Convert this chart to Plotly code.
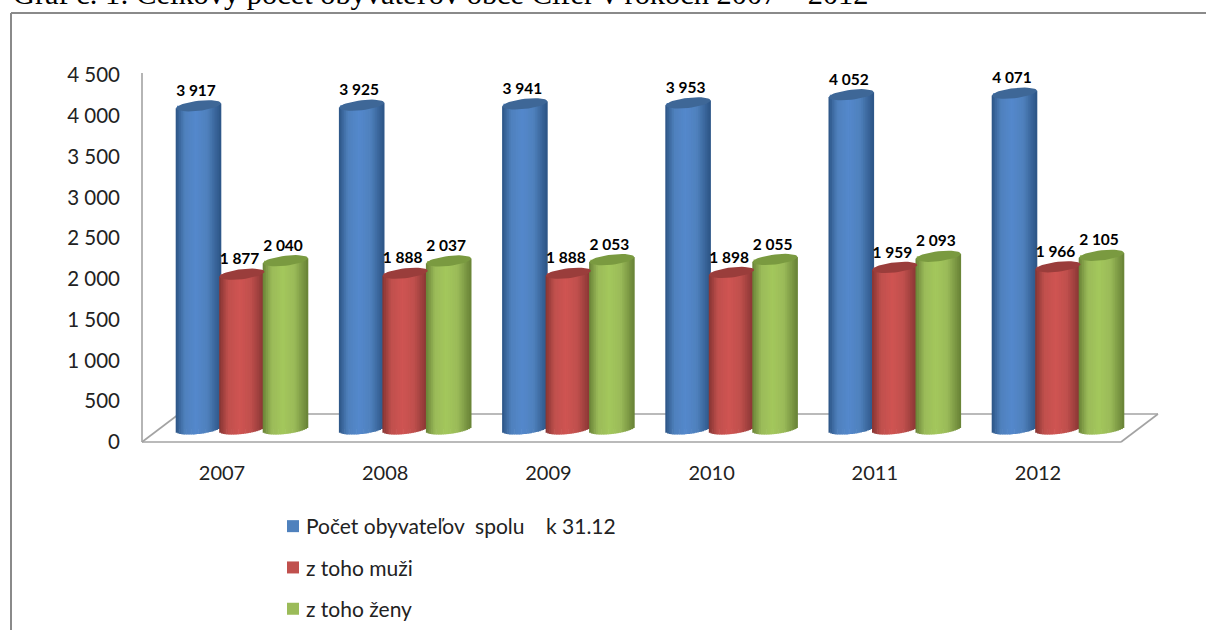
import math
import plotly.graph_objects as go

years = ["2007", "2008", "2009", "2010", "2011", "2012"]
total = [3917, 3925, 3941, 3953, 4052, 4071]
men = [1877, 1888, 1888, 1898, 1959, 1966]
women = [2040, 2037, 2053, 2055, 2093, 2105]
series_names = ["Počet obyvateľov  spolu    k 31.12", "z toho muži", "z toho ženy"]
title_text = "Graf č. 1: Celkový počet obyvateľov obce Cífer v rokoch 2007 – 2012"

W, H = 1206, 630
STEP = 163.2          # px between categories
PXU = 0.0825          # px per inhabitant in the bar (3D shifted) plane
BASE_Y = 429          # px of zero in the bar plane
BAR_W, BAR_OFF = 45, 43.5
CAP_B, CAP_TILT = 5, 2.5
N = 26

# edge, mid, light, cap, flat
palette = [
    ((44, 84, 133), (79, 129, 189), (84, 136, 204), (62, 103, 151), "#4F81BD"),
    ((133, 52, 50), (192, 80, 77), (207, 84, 82), (154, 61, 59), "#C0504D"),
    ((104, 130, 54), (155, 187, 89), (163, 199, 92), (122, 154, 64), "#9BBB59"),
]
FONT = "Lato"


def px(x):
    return x / W


def py(y):
    return 1 - y / H


def mix(a, b, t):
    return tuple(round(a[i] + (b[i] - a[i]) * t) for i in range(3))


def shade(u, pal):
    t = (u + 1) / 2
    edge, mid, light = pal[0], pal[1], pal[2]
    if t < 0.2:
        c = mix(edge, mid, t / 0.2)
    elif t < 0.45:
        c = mix(mid, light, (t - 0.2) / 0.25)
    elif t < 0.7:
        c = mix(light, mid, (t - 0.45) / 0.25)
    else:
        c = mix(mid, edge, (t - 0.7) / 0.3)
    return "rgb(%d,%d,%d)" % c


fig = go.Figure()
pos = list(range(len(years)))
all_series = [total, men, women]

# invisible trace that keeps the visible front axes alive
fig.add_trace(go.Scatter(x=pos, y=total, mode="markers", marker=dict(opacity=0),
                         showlegend=False, hoverinfo="skip"))

for s, values in enumerate(all_series):
    off = (s - 1) * BAR_OFF / STEP
    pal = palette[s]
    # flat base bar: carries the legend entry
    fig.add_trace(go.Bar(
        x=[p + off for p in pos], y=values, width=(BAR_W - 2) / STEP, name=series_names[s],
        marker=dict(color=pal[4], line=dict(width=0)), xaxis="x2", yaxis="y2",
        legendgroup=str(s), showlegend=True, hoverinfo="skip",
    ))
    # cylinder shading strips
    xs, ys, bases, cols = [], [], [], []
    for p, v in zip(pos, values):
        for k in range(N):
            u = -1 + (2 * k + 1) / N
            low = -(CAP_B * math.sqrt(1 - u * u)) / PXU + CAP_TILT * u / PXU
            high = v + CAP_TILT * u / PXU
            xs.append(p + off + u * BAR_W / 2 / STEP)
            bases.append(low)
            ys.append(high - low)
            cols.append(shade(u, pal))
    fig.add_trace(go.Bar(
        x=xs, y=ys, base=bases, width=(BAR_W / N + 0.6) / STEP,
        marker=dict(color=cols, line=dict(width=0)), xaxis="x2", yaxis="y2",
        showlegend=False, hoverinfo="skip",
    ))

for s, values in enumerate(all_series):
    off = (s - 1) * BAR_OFF / STEP
    pal = palette[s]
    # top caps
    cx, cy = [], []
    for p, v in zip(pos, values):
        for j in range(41):
            t = 2 * math.pi * j / 40
            cx.append(p + off + math.cos(t) * BAR_W / 2 / STEP)
            cy.append(v + (CAP_TILT * math.cos(t) + CAP_B * math.sin(t)) / PXU)
        cx.append(None)
        cy.append(None)
    fig.add_trace(go.Scatter(
        x=cx, y=cy, mode="lines", fill="toself", fillcolor="rgb(%d,%d,%d)" % pal[3],
        line=dict(width=0, color="rgb(%d,%d,%d)" % pal[3]), xaxis="x2", yaxis="y2",
        showlegend=False, hoverinfo="skip",
    ))

for s, values in enumerate(all_series):
    off = (s - 1) * BAR_OFF / STEP
    fig.add_trace(go.Scatter(
        x=[p + off - 2.5 / STEP for p in pos], y=[v + 6 / PXU for v in values],
        mode="text", text=[f"{v:,}".replace(",", " ") for v in values],
        textposition="top center",
        textfont=dict(family=FONT, size=15.5, color="#000000", weight="bold"),
        xaxis="x2", yaxis="y2", showlegend=False, hoverinfo="skip",
    ))

GRAY = "#A3A3A3"
floor = [
    (142, 442, 1121, 442), (142, 442, 179, 414), (179, 414, 1158, 414), (1158, 414, 1121, 442),
]
shapes = [dict(type="line", xref="paper", yref="paper", x0=px(a), y0=py(b), x1=px(c), y1=py(d),
               line=dict(color=GRAY, width=1.6), layer="below") for a, b, c, d in floor]
shapes += [
    dict(type="line", xref="paper", yref="paper", x0=px(11), y0=py(13), x1=1, y1=py(13),
         line=dict(color="#8A8A8A", width=2), layer="below"),
    dict(type="line", xref="paper", yref="paper", x0=px(11), y0=py(13), x1=px(11), y1=0,
         line=dict(color="#8A8A8A", width=2), layer="below"),
    dict(type="line", xref="paper", yref="paper", x0=px(142), y0=py(442), x1=px(142), y1=py(73),
         line=dict(color=GRAY, width=1.6), layer="below"),
]

fig.update_layout(
    width=W, height=H, margin=dict(l=0, r=0, t=0, b=0, autoexpand=False),
    paper_bgcolor="white", plot_bgcolor="rgba(0,0,0,0)",
    barmode="overlay", separators=", ",
    font=dict(family=FONT, color="#222222"),
    shapes=shapes,
    xaxis=dict(domain=[0, 1], range=[-222 / STEP, (W - 222) / STEP], tickmode="array",
               tickvals=pos, ticktext=years, showgrid=False, zeroline=False, showline=False,
               anchor="y", tickfont=dict(size=20, family=FONT, color="#222222"),
               ticks="", ticklabelstandoff=17),
    yaxis=dict(domain=[py(442), py(75)], range=[0, 4500], tickmode="array",
               tickvals=list(range(0, 5000, 500)), tickformat=",d", showgrid=False,
               zeroline=False, showline=False, ticks="", anchor="free", position=px(142),
               tickfont=dict(size=20.5, family=FONT, color="#222222"), ticklabelstandoff=22),
    xaxis2=dict(domain=[0, 1], range=[-242 / STEP, (W - 242) / STEP],
                visible=False, anchor="y2"),
    yaxis2=dict(domain=[0, 1], range=[-(H - BASE_Y) / PXU, BASE_Y / PXU],
                visible=False, anchor="x2"),
    legend=dict(x=px(266), y=py(506), xanchor="left", yanchor="top", traceorder="grouped",
                tracegroupgap=11, font=dict(size=21, family=FONT, color="#222222"),
                bgcolor="rgba(0,0,0,0)"),
    annotations=[dict(text=title_text, xref="paper", yref="paper", x=px(11), y=py(13.5),
                      xanchor="left", yanchor="bottom", showarrow=False,
                      font=dict(family="Liberation Serif", size=30.4, color="#000000"))],
)

fig.write_html(
    "out.html",
    config=dict(displayModeBar=False),
    post_script="document.body.style.margin='0';"
                "document.querySelectorAll('.legendsymbols').forEach(function(g)"
                "{g.setAttribute('transform','translate(7,0)');});",
)
